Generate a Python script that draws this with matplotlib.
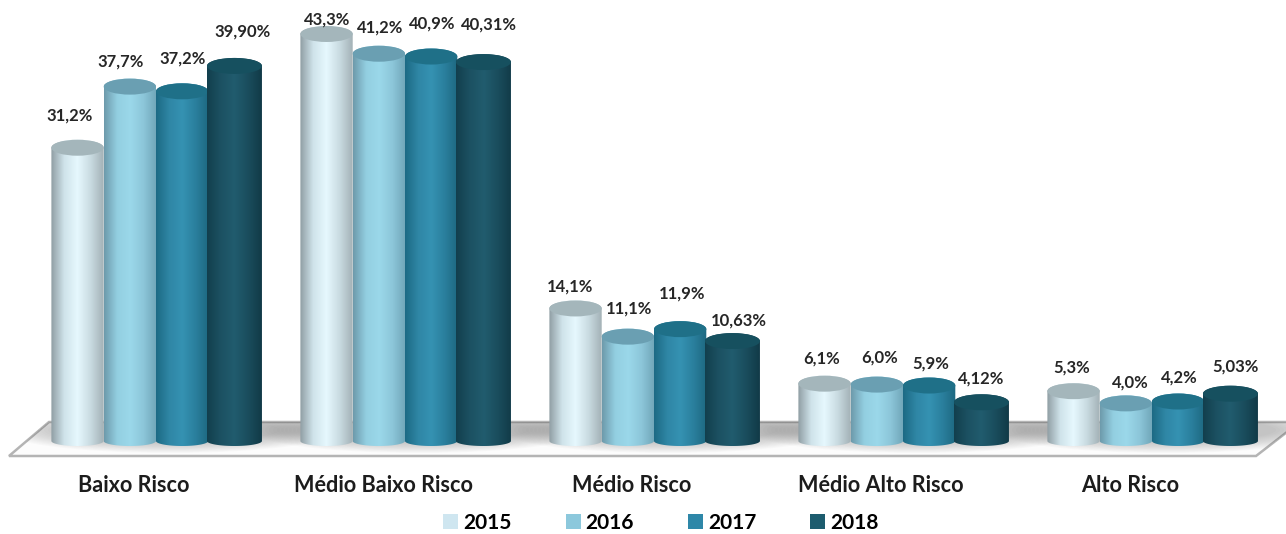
import numpy as np
import matplotlib
matplotlib.use('Agg')
import matplotlib.pyplot as plt
from matplotlib.colors import LinearSegmentedColormap
from matplotlib.patches import Ellipse, Patch, PathPatch, Polygon
from matplotlib.path import Path

categories = ['Baixo Risco', 'Médio Baixo Risco', 'Médio Risco', 'Médio Alto Risco', 'Alto Risco']
years = ['2015', '2016', '2017', '2018']
v2015 = [31.2, 43.3, 14.1, 6.1, 5.3]
v2016 = [37.7, 41.2, 11.1, 6.0, 4.0]
v2017 = [37.2, 40.9, 11.9, 5.9, 4.2]
v2018 = [39.90, 40.31, 10.63, 4.12, 5.03]
series = [v2015, v2016, v2017, v2018]
decimals = [1, 1, 1, 2]

# side gradient left/middle/right, then lid colour and legend swatch
side_colors = [['#8f9da3', '#cfe3ea', '#e6f8fe', '#c9dbe1', '#a3b1b6'],
               ['#6d9aab', '#93cfe1', '#9bd8ea', '#8cc6d9', '#6fa5b7'],
               ['#1c6a84', '#2f86a5', '#3592b2', '#2a7f9d', '#1d6880'],
               ['#123f4d', '#1c5162', '#215c6e', '#1a4d5d', '#113a47']]
lid_colors = ['#a4b6bb', '#6a9fb2', '#1f7088', '#16505f']
legend_colors = ['#cfe6f0', '#8cc8dc', '#2e87a8', '#1d5c6e']

# label nudges in pixels, per year and category
label_dx = [[-8, 1, -6, -3, -2], [-9, 1, 1, 3, 4], [0, 1, 2, 2, 1], [8, 6, 6, 0, 5]]
label_dy = [[32, 14, 22, 25, 24], [25, 26, 28, 27, 21], [33, 33, 36, 22, 24], [34, 38, 21, 24, 27]]

W, H = 1286, 534
x0, group_px = 156, 249      # first group centre, group spacing
y0, unit_px = 441, 9.4       # baseline, pixels per percentage point
bar_px = 52.3


def px_x(p):
    return (p - x0) / group_px


def px_y(p):
    return (y0 - p) / unit_px


fig = plt.figure(figsize=(W / 100, H / 100), dpi=100)
ax = fig.add_axes([0, 0, 1, 1])
ax.axis('off')

# floor slab
floor_pts = [(9, 456), (49, 422), (1300, 422), (1256, 456)]
floor = Polygon([(px_x(a), px_y(b)) for a, b in floor_pts], closed=True,
                facecolor='#fcfcfc', edgecolor='#b4b4b4', linewidth=1.8, zorder=1)
ax.add_patch(floor)

# soft shadow under each group
for i in range(len(categories)):
    for k in range(16):
        w = (340 - k * 8) / group_px
        h = (46 - k * 1.5) / unit_px
        sh = Ellipse((i + 14 / group_px, px_y(430)), w, h, facecolor='#5e5e5e',
                     edgecolor='none', alpha=0.022, zorder=2)
        ax.add_patch(sh)
        sh.set_clip_path(floor)

grad = np.linspace(0, 1, 256).reshape(1, -1)
lid_h = 16 / unit_px
base_h = 10 / unit_px

for s, values in enumerate(series):
    cmap = LinearSegmentedColormap.from_list('side' + years[s], side_colors[s])
    width = (55 if s == 3 else bar_px) / group_px
    for i, v in enumerate(values):
        cx = i + (s - 1.5) * bar_px / group_px
        left, right = cx - width / 2, cx + width / 2
        t = np.linspace(0, np.pi, 40)
        xs = cx - np.cos(t) * width / 2
        # body outline: lid arc at the top, base arc at the bottom
        top = np.column_stack([xs, v + np.sin(t) * lid_h / 2])
        bottom = np.column_stack([xs[::-1], -np.sin(t) * base_h / 2])
        body = PathPatch(Path(np.vstack([top, bottom, top[:1]])), facecolor='none',
                         edgecolor='none', zorder=3 + s)
        ax.add_patch(body)
        im = ax.imshow(grad, cmap=cmap, extent=[left, right, -base_h, v + lid_h],
                       aspect='auto', zorder=3 + s)
        im.set_clip_path(body)
        ax.add_patch(Ellipse((cx, v), width, lid_h, facecolor=lid_colors[s],
                             edgecolor='none', zorder=3 + s))
        txt = f'{v:.{decimals[s]}f}'.replace('.', ',') + '%'
        ax.annotate(txt, xy=(cx, v), xytext=(label_dx[s][i], label_dy[s][i]),
                    textcoords='offset pixels', ha='center', va='center',
                    family='Lato', fontweight='bold', fontsize=12,
                    color='#262626', zorder=10)

for i, name in enumerate(categories):
    ax.annotate(name, xy=(i, 0), xytext=(-22, -44), textcoords='offset pixels',
                ha='center', va='center', family='Lato', fontweight='bold',
                fontsize=15.6, color='#1c1c1c')

handles = [Patch(facecolor=c, edgecolor='none', label=y) for c, y in zip(legend_colors, years)]
ax.legend(handles=handles, loc='center', bbox_to_anchor=(661 / W, 1 - 523 / H),
          bbox_transform=fig.transFigure, ncols=4, frameon=False, handlelength=0.72,
          handleheight=0.72, handletextpad=0.25, columnspacing=2.57, borderpad=0,
          prop={'family': 'Lato', 'weight': 'bold', 'size': 15})

ax.set_xlim(px_x(0), px_x(W))
ax.set_ylim(px_y(H), px_y(0))

fig.savefig('out.png', dpi=100, facecolor='white')
